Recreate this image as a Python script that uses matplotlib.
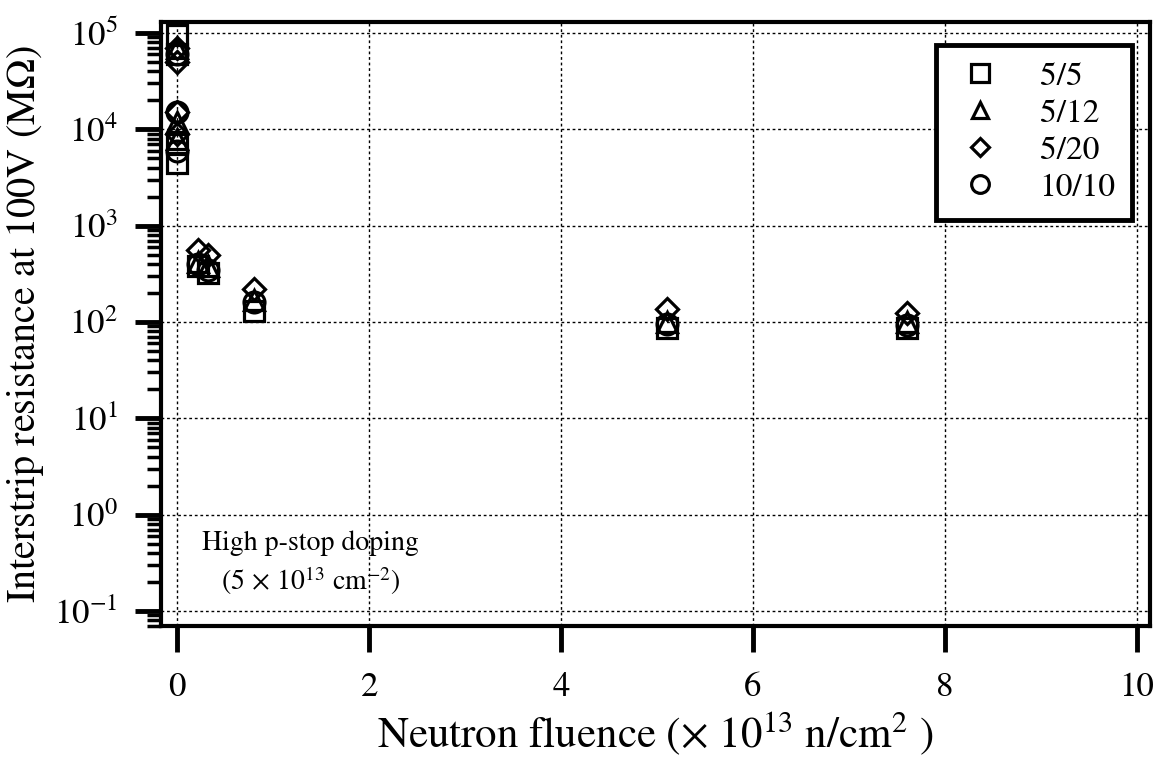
import matplotlib
matplotlib.use("Agg")
import matplotlib.pyplot as plt
from matplotlib.ticker import LogLocator, NullFormatter, FixedLocator

plt.rcParams["font.family"] = ["STIXGeneral", "DejaVu Serif"]
plt.rcParams["mathtext.fontset"] = "stix"

# fluence in 1e13 n/cm^2, resistance in MOhm
x_55 = [0, 0, 0, 0, 0.22, 0.32, 0.8, 5.1, 7.6]
y_55 = [95000, 60000, 7000, 4500, 380, 320, 130, 87, 87]
x_512 = [0, 0, 0, 0.22, 0.32, 0.8, 5.1, 7.6]
y_512 = [70000, 12000, 8000, 420, 380, 170, 100, 100]
x_520 = [0, 0, 0, 0, 0.22, 0.32, 0.8, 5.1, 7.6]
y_520 = [70000, 50000, 15000, 9000, 560, 500, 220, 135, 125]
x_1010 = [0, 0, 0, 0.22, 0.32, 0.8, 5.1, 7.6]
y_1010 = [60000, 15000, 6000, 400, 350, 160, 95, 92]

x_ticks = [0, 2, 4, 6, 8, 10]
y_ticks = [1e-1, 1e0, 1e1, 1e2, 1e3, 1e4, 1e5]

series = [
    ("5/5", "s", x_55, y_55),
    ("5/12", "^", x_512, y_512),
    ("5/20", "D", x_520, y_520),
    ("10/10", "o", x_1010, y_1010),
]
sizes = {"s": 15, "^": 14, "D": 11, "o": 15}

fig = plt.figure(figsize=(11.61, 7.62), dpi=100)
ax = fig.add_axes([0.1387, 0.1785, 0.852, 0.7926])

for label, m, xs, ys in series:
    ax.plot(xs, ys, linestyle="none", marker=m, markersize=sizes[m],
            markerfacecolor="none", markeredgecolor="black",
            markeredgewidth=2.3, label=label)

ax.set_yscale("log")
ax.set_xlim(-0.17, 10.14)
ax.set_ylim(10 ** -1.156, 10 ** 5.114)
ax.xaxis.set_major_locator(FixedLocator(x_ticks))
ax.yaxis.set_major_locator(FixedLocator(y_ticks))
ax.yaxis.set_minor_locator(LogLocator(base=10, subs=range(2, 10), numticks=10))
ax.yaxis.set_minor_formatter(NullFormatter())

ax.grid(True, which="major", linestyle=(0, (2, 2)), color="black", linewidth=1)
for s in ax.spines.values():
    s.set_linewidth(3)
ax.tick_params(axis="both", which="major", direction="out", length=19, width=3.5,
               labelsize=25)
ax.tick_params(axis="y", which="major", pad=12)
ax.tick_params(axis="y", which="minor", direction="out", length=10, width=2.5)
ax.tick_params(axis="x", which="major", pad=14)

ax.set_xlabel(r"Neutron fluence ($\times$ 10$^{13}$ n/cm$^2$ )", fontsize=31, labelpad=4)
ax.set_ylabel(r"Interstrip resistance at 100V (M$\Omega$)", fontsize=29, labelpad=6)

ax.text(1.39, 0.31, "High p-stop doping\n" + r"(5$\,\times\,$10$^{13}$ cm$^{-2}$)",
        ha="center", va="center", fontsize=20, linespacing=1.3)

leg = ax.legend(loc="upper right", bbox_to_anchor=(0.982, 0.962), borderaxespad=0,
                fontsize=24, frameon=True, fancybox=False, edgecolor="black",
                framealpha=1, handletextpad=1.0, labelspacing=0.2,
                borderpad=0.5, handlelength=1.6, markerscale=0.85)
leg.get_frame().set_linewidth(3.5)
for t in leg.get_texts():
    t.set_ha("right")
leg._legend_box.align = "right"

fig.savefig("out.png", dpi=100)
